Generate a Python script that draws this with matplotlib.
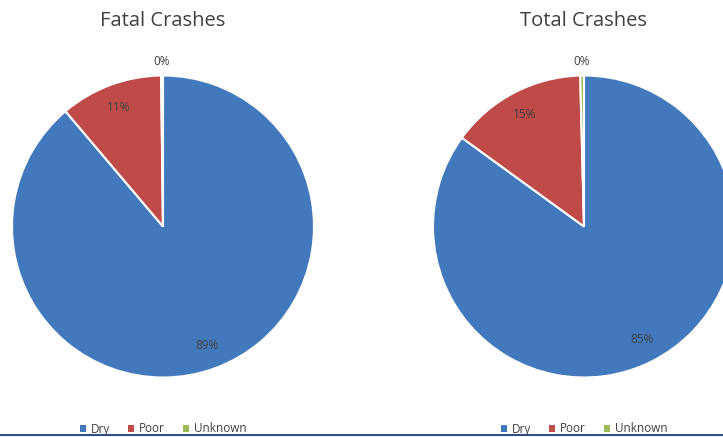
import numpy as np
import matplotlib
matplotlib.use("Agg")
import matplotlib.pyplot as plt
from matplotlib.lines import Line2D
from matplotlib.patches import Patch

categories = ["Dry", "Poor", "Unknown"]
fatal = [89.0, 11.0, 0.2]
total = [85.0, 14.6, 0.4]
titles = ["Fatal Crashes", "Total Crashes"]
colors = ["#4279BD", "#BE4B48", "#9BBB59"]

W, H = 723, 437
fig = plt.figure(figsize=(W / 100, H / 100), dpi=100)
plt.rcParams["font.family"] = ["Open Sans", "DejaVu Sans"]


def draw(vals, title, cx, cy, r):
    ax = fig.add_axes([(cx - r) / W, (H - cy - r) / H, 2 * r / W, 2 * r / H])
    wedges, _ = ax.pie(vals, colors=colors, startangle=90, counterclock=False,
                       radius=1, wedgeprops=dict(edgecolor="white", linewidth=1.5))
    tot = sum(vals)
    for w, v in zip(wedges, vals):
        mid = np.deg2rad((w.theta1 + w.theta2) / 2)
        d = 0.84 if v / tot > 0.02 else 1.09
        ax.text(d * np.cos(mid), d * np.sin(mid), f"{v / tot * 100:.0f}%",
                ha="center", va="center", fontsize=8.5, color="#404040")
    ax.set_xlim(-1, 1); ax.set_ylim(-1, 1)
    ax.set_aspect("equal"); ax.axis("off")
    fig.text(cx / W, 1 - 21 / H, title, ha="center", va="center", fontsize=14.5, color="#404040")
    handles = [Patch(facecolor=c, edgecolor="none") for c in colors]
    fig.legend(handles, categories, loc="center", bbox_to_anchor=(cx / W, 1 - 429 / H),
               ncol=3, frameon=False, fontsize=8.5, handlelength=0.55, handleheight=0.55,
               columnspacing=1.5, handletextpad=0.4, labelcolor="#404040")


draw(fatal, titles[0], 163, 226.5, 151)
draw(total, titles[1], 584, 226.5, 151)

fig.add_artist(Line2D([0, 1], [1 - 435 / H] * 2, color="#2F4F8F", lw=1.5))
fig.savefig("out.png", dpi=100)
